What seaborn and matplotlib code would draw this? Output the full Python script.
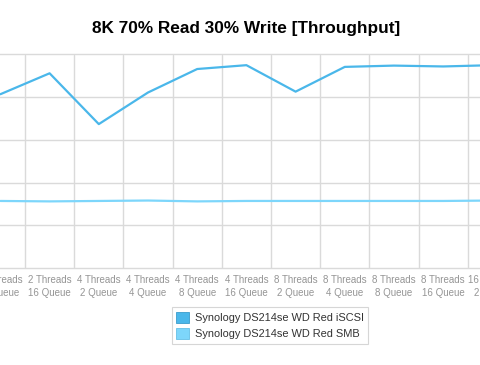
import numpy as np
import pandas as pd
import matplotlib
matplotlib.use("Agg")
import matplotlib.pyplot as plt
import seaborn as sns
from matplotlib.patches import Patch

# ---- data ----
threads = ["2 Threads", "2 Threads", "4 Threads", "4 Threads", "4 Threads", "4 Threads",
           "8 Threads", "8 Threads", "8 Threads", "8 Threads", "16 Threads"]
queues = ["8 Queue", "16 Queue", "2 Queue", "4 Queue", "8 Queue", "16 Queue",
          "2 Queue", "4 Queue", "8 Queue", "16 Queue", "2 Queue"]
iscsi = [40.7, 45.6, 33.7, 41.1, 46.6, 47.5, 41.3, 47.1, 47.4, 47.2, 47.5]
smb = [15.7, 15.6, 15.7, 15.8, 15.6, 15.7, 15.7, 15.7, 15.7, 15.7, 15.8]
series_names = ["Synology DS214se WD Red iSCSI", "Synology DS214se WD Red SMB"]
colors = ["#4ab7ea", "#7dd6fb"]
title = "8K 70% Read 30% Write [Throughput]"

n = len(threads)
labels = [f"{t}\n{q}" for t, q in zip(threads, queues)]
df = pd.DataFrame({
    "pos": list(range(n)) * 2,
    "value": iscsi + smb,
    "series": [series_names[0]] * n + [series_names[1]] * n,
})

sns.set_style("white")
plt.rcParams["font.family"] = ["Liberation Sans", "DejaVu Sans"]

W, H = 480, 365
fig = plt.figure(figsize=(W / 100, H / 100), dpi=100)
left_px, right_px = -24.2, 517.0
top_px, bot_px = 54.5, 268.0
ax = fig.add_axes([left_px / W, 1 - bot_px / H, (right_px - left_px) / W, (bot_px - top_px) / H])

sns.lineplot(data=df, x="pos", y="value", hue="series", palette=colors,
             linewidth=1.6, ax=ax, legend=False, sort=False)

ax.set_xlim(-0.5, n - 0.5)
ax.set_ylim(0, 50)
ax.set_yticks(np.arange(0, 51, 10))
ax.set_yticklabels([])
ax.set_xticks(range(n))
ax.set_xticklabels(labels, fontsize=7, color="#959595", linespacing=1.35)
ax.set_xticks(np.arange(-0.5, n, 1), minor=True)
ax.tick_params(axis="x", which="both", length=0, pad=5)
ax.tick_params(axis="y", length=0)
ax.grid(False)
ax.xaxis.grid(True, which="minor", color="#dadada", linewidth=1)
ax.yaxis.grid(True, which="major", color="#dadada", linewidth=1)
for s in ax.spines.values():
    s.set_visible(False)
ax.set_xlabel("")
ax.set_ylabel("")
for gl in ax.get_ygridlines():
    gl.set_clip_on(False)

fig.text(246.5 / W, 1 - 28 / H, title, ha="center", va="center",
         fontsize=12.4, fontweight="bold", color="#000000")

handles = [Patch(facecolor=c, edgecolor="#3a9ccc" if i == 0 else "#66bfe6", linewidth=0.6)
           for i, c in enumerate(colors)]
leg = fig.legend(handles, series_names, loc="center",
                 bbox_to_anchor=(270 / W, 1 - 325.5 / H),
                 fontsize=7.9, frameon=True, fancybox=False,
                 handlelength=1.1, handleheight=1.1, handletextpad=0.55,
                 labelspacing=0.45, borderpad=0.45, borderaxespad=0)
leg.get_frame().set_edgecolor("#cccccc")
leg.get_frame().set_linewidth(0.8)
for t in leg.get_texts():
    t.set_color("#333333")

fig.savefig("out.png", dpi=100)
